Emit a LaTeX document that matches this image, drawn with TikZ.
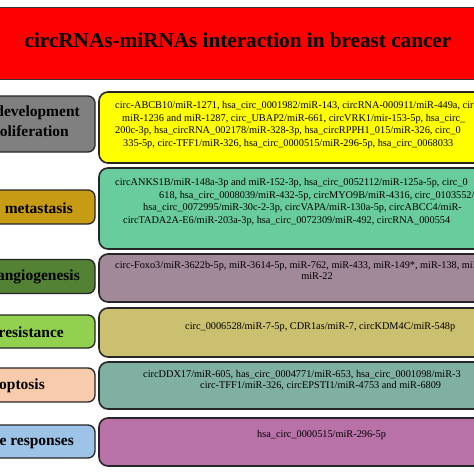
\documentclass[tikz,border=0pt]{standalone}
\usepackage{fontspec}
\setmainfont{Liberation Serif}
\definecolor{cgray}{RGB}{128,128,128}
\definecolor{cyell}{RGB}{255,255,0}
\definecolor{cgold}{RGB}{200,155,20}
\definecolor{cmint}{RGB}{104,204,156}
\definecolor{cdkgreen}{RGB}{84,130,53}
\definecolor{cmauve}{RGB}{162,137,153}
\definecolor{cltgreen}{RGB}{146,208,80}
\definecolor{ckhaki}{RGB}{202,192,112}
\definecolor{cpeach}{RGB}{248,203,173}
\definecolor{cteal}{RGB}{128,176,162}
\definecolor{cltblue}{RGB}{157,195,230}
\definecolor{cmag}{RGB}{184,114,168}
\begin{document}
\begin{tikzpicture}[x=1pt,y=-1pt,
  titlebox/.style={draw=black!80, line width=1pt, fill=red, inner sep=0pt},
  titletxt/.style={inner sep=0pt, font=\fontsize{21.2}{25}\selectfont\bfseries},
  labbox/.style={draw=black!85, line width=1.3pt, rounded corners=7pt, inner sep=0pt},
  contbox/.style={draw=black!85, line width=1.6pt, rounded corners=9pt, inner sep=0pt},
  labtxt/.style={font=\fontsize{15.5}{17}\selectfont\bfseries, anchor=east, inner sep=0pt},
  ln/.style={font=\fontsize{10.3}{12}\selectfont, anchor=west, inner sep=0pt, text height=7pt, text depth=2pt},
]
\useasboundingbox (0,0) rectangle (474,474);
\clip (0,0) rectangle (474,474);
\fill[white] (0,0) rectangle (474,474);

% title
\node[titlebox, minimum width=500pt, minimum height=72pt] (title) at (237,43) {};
\node[titletxt] (titletext) at (238,40) {circRNAs-miRNAs interaction in breast cancer};

% left label boxes
\node[labbox, fill=cgray, minimum width=160pt, minimum height=56pt] (l1) at (15,124) {};
\node[labbox, fill=cgold, minimum width=160pt, minimum height=34pt] (l2) at (15,207) {};
\node[labbox, fill=cdkgreen, minimum width=160pt, minimum height=34pt] (l3) at (15,276.5) {};
\node[labbox, fill=cltgreen, minimum width=160pt, minimum height=33pt] (l4) at (15,331.5) {};
\node[labbox, fill=cpeach, minimum width=160pt, minimum height=34pt] (l5) at (15,385) {};
\node[labbox, fill=cltblue, minimum width=160pt, minimum height=33pt] (l6) at (15,441.5) {};

\node[labtxt] (t1a) at (80,113) {development};
\node[labtxt] (t1b) at (69,133) {proliferation};
\node[labtxt] (t2) at (73,208) {metastasis};
\node[labtxt] (t3) at (80,277) {angiogenesis};
\node[labtxt] (t4) at (64,332) {resistance};
\node[labtxt] (t5) at (45,386) {apoptosis};
\node[labtxt] (t6) at (74,442) {Immune responses};

% right content boxes
\node[contbox, fill=cyell, minimum width=440pt, minimum height=71pt] (r1) at (319,127.5) {};
\node[contbox, fill=cmint, minimum width=440pt, minimum height=81pt] (r2) at (319,208.5) {};
\node[contbox, fill=cmauve, minimum width=440pt, minimum height=48pt] (r3) at (319,278) {};
\node[contbox, fill=ckhaki, minimum width=440pt, minimum height=49pt] (r4) at (319,332.5) {};
\node[contbox, fill=cteal, minimum width=440pt, minimum height=47pt] (r5) at (319,385.5) {};
\node[contbox, fill=cmag, minimum width=440pt, minimum height=48pt] (r6) at (319,442) {};

% row 1 text
\node[ln] (a1) at (115,106) {circ-ABCB10/miR-1271, hsa\_circ\_0001982/miR-143, circRNA-000911/miR-449a, circ};
\node[ln] (a2) at (122,119) {miR-1236 and miR-1287, circ\_UBAP2/miR-661, circVRK1/mir-153-5p, hsa\_circ\_};
\node[ln] (a3) at (115,131) {200c-3p, hsa\_circRNA\_002178/miR-328-3p, hsa\_circRPPH1\_015/miR-326, circ\_0};
\node[ln] (a4) at (123,144) {335-5p, circ-TFF1/miR-326, hsa\_circ\_0000515/miR-296-5p, hsa\_circ\_0068033};
% row 2 text
\node[ln] (b1) at (115,183) {circANKS1B/miR-148a-3p and miR-152-3p, hsa\_circ\_0052112/miR-125a-5p, circ\_0};
\node[ln] (b2) at (159,196) {618, hsa\_circ\_0008039/miR-432-5p, circMYO9B/miR-4316, circ\_0103552/miR};
\node[ln] (b3) at (143,208) {hsa\_circ\_0072995/miR-30c-2-3p, circVAPA/miR-130a-5p, circABCC4/miR-};
\node[ln] (b4) at (123,221) {circTADA2A-E6/miR-203a-3p, hsa\_circ\_0072309/miR-492, circRNA\_000554};
% row 3 text
\node[ln] (c1) at (115,266) {circ-Foxo3/miR-3622b-5p, miR-3614-5p, miR-762, miR-433, miR-149*, miR-138, miR};
\node[ln, anchor=center] (c2) at (317,277) {miR-22};
% row 4 text
\node[ln] (d1) at (185,327) {circ\_0006528/miR-7-5p, CDR1as/miR-7, circKDM4C/miR-548p};
% row 5 text
\node[ln] (e1) at (143,375) {circDDX17/miR-605, has\_circ\_0004771/miR-653, hsa\_circ\_0001098/miR-3};
\node[ln] (e2) at (200,386) {circ-TFF1/miR-326, circEPSTI1/miR-4753 and miR-6809};
% row 6 text
\node[ln] (f1) at (257,435) {hsa\_circ\_0000515/miR-296-5p};
\end{tikzpicture}
\end{document}
